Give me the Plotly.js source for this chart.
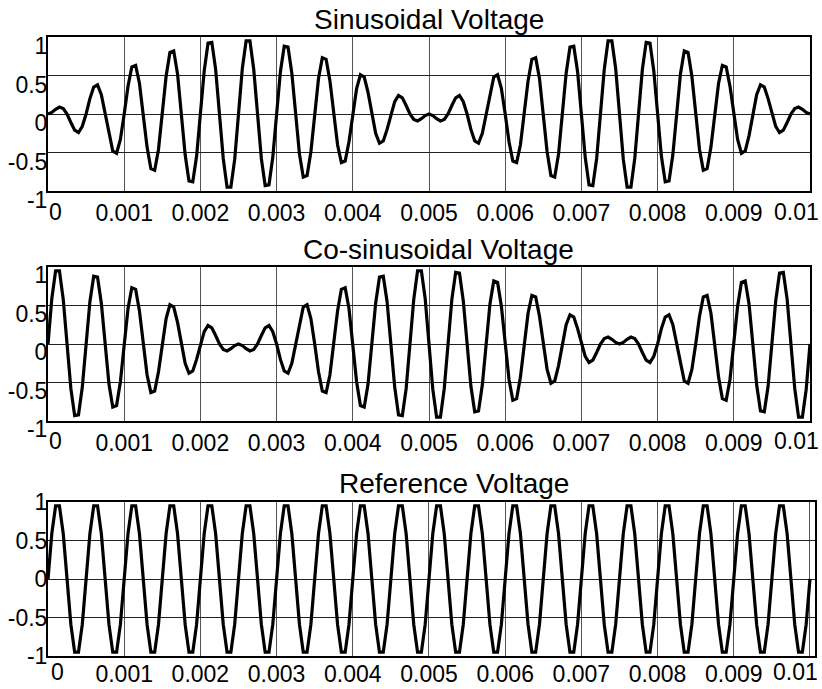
<!DOCTYPE html>
<html><head><meta charset="utf-8">
<script src="https://cdn.plot.ly/plotly-3.0.1.min.js"></script>
<style>html,body{margin:0;padding:0;background:#fff;}#chart{width:822px;height:689px;}</style>
</head><body><div id="chart"></div>
<script>
// time axis: samples start at 0 s, one sample every 0.00005 s (201 samples up to 0.01 s)
const sampleStart = 0;
const sampleStep = 0.00005;

const sinusoidalVoltage = [
  0,
  0.02, 0.06, 0.09, 0.07, 0, -0.11, -0.21, -0.24, -0.16, 0,
  0.20, 0.35, 0.38, 0.25, 0, -0.28, -0.48, -0.51, -0.33, 0,
  0.36, 0.61, 0.63, 0.40, 0, -0.43, -0.71, -0.73, -0.46, 0,
  0.49, 0.80, 0.82, 0.52, 0, -0.53, -0.87, -0.88, -0.55, 0,
  0.56, 0.92, 0.93, 0.58, 0, -0.58, -0.95, -0.95, -0.59, 0,
  0.59, 0.95, 0.95, 0.58, 0, -0.58, -0.93, -0.92, -0.56, 0,
  0.55, 0.88, 0.87, 0.53, 0, -0.52, -0.82, -0.80, -0.49, 0,
  0.46, 0.73, 0.71, 0.43, 0, -0.40, -0.63, -0.61, -0.36, 0,
  0.33, 0.51, 0.48, 0.28, 0, -0.25, -0.38, -0.35, -0.20, 0,
  0.16, 0.24, 0.21, 0.11, 0, -0.07, -0.09, -0.06, -0.02, 0,
  -0.02, -0.06, -0.09, -0.07, 0, 0.11, 0.21, 0.24, 0.16, 0,
  -0.20, -0.35, -0.38, -0.25, 0, 0.28, 0.48, 0.51, 0.33, 0,
  -0.36, -0.61, -0.63, -0.40, 0, 0.43, 0.71, 0.73, 0.46, 0,
  -0.49, -0.80, -0.82, -0.52, 0, 0.53, 0.87, 0.88, 0.55, 0,
  -0.56, -0.92, -0.93, -0.58, 0, 0.58, 0.95, 0.95, 0.59, 0,
  -0.59, -0.95, -0.95, -0.58, 0, 0.58, 0.93, 0.92, 0.56, 0,
  -0.55, -0.88, -0.87, -0.53, 0, 0.52, 0.82, 0.80, 0.49, 0,
  -0.46, -0.73, -0.71, -0.43, 0, 0.40, 0.63, 0.61, 0.36, 0,
  -0.33, -0.51, -0.48, -0.28, 0, 0.25, 0.38, 0.35, 0.20, 0,
  -0.16, -0.24, -0.21, -0.11, 0, 0.07, 0.09, 0.06, 0.02, 0
];

const cosinusoidalVoltage = [
  0,
  0.59, 0.95, 0.95, 0.58, 0, -0.58, -0.93, -0.92, -0.56, 0,
  0.55, 0.88, 0.87, 0.53, 0, -0.52, -0.82, -0.80, -0.49, 0,
  0.46, 0.73, 0.71, 0.43, 0, -0.40, -0.63, -0.61, -0.36, 0,
  0.33, 0.51, 0.48, 0.28, 0, -0.25, -0.38, -0.35, -0.20, 0,
  0.16, 0.24, 0.21, 0.11, 0, -0.07, -0.09, -0.06, -0.02, 0,
  -0.02, -0.06, -0.09, -0.07, 0, 0.11, 0.21, 0.24, 0.16, 0,
  -0.20, -0.35, -0.38, -0.25, 0, 0.28, 0.48, 0.51, 0.33, 0,
  -0.36, -0.61, -0.63, -0.40, 0, 0.43, 0.71, 0.73, 0.46, 0,
  -0.49, -0.80, -0.82, -0.52, 0, 0.53, 0.87, 0.88, 0.55, 0,
  -0.56, -0.92, -0.93, -0.58, 0, 0.58, 0.95, 0.95, 0.59, 0,
  -0.59, -0.95, -0.95, -0.58, 0, 0.58, 0.93, 0.92, 0.56, 0,
  -0.55, -0.88, -0.87, -0.53, 0, 0.52, 0.82, 0.80, 0.49, 0,
  -0.46, -0.73, -0.71, -0.43, 0, 0.40, 0.63, 0.61, 0.36, 0,
  -0.33, -0.51, -0.48, -0.28, 0, 0.25, 0.38, 0.35, 0.20, 0,
  -0.16, -0.24, -0.21, -0.11, 0, 0.07, 0.09, 0.06, 0.02, 0,
  0.02, 0.06, 0.09, 0.07, 0, -0.11, -0.21, -0.24, -0.16, 0,
  0.20, 0.35, 0.38, 0.25, 0, -0.28, -0.48, -0.51, -0.33, 0,
  0.36, 0.61, 0.63, 0.40, 0, -0.43, -0.71, -0.73, -0.46, 0,
  0.49, 0.80, 0.82, 0.52, 0, -0.53, -0.87, -0.88, -0.55, 0,
  0.56, 0.92, 0.93, 0.58, 0, -0.58, -0.95, -0.95, -0.59, 0
];

const referenceVoltage = [
  0,
  0.59, 0.95, 0.95, 0.59, 0, -0.59, -0.95, -0.95, -0.59, 0,
  0.59, 0.95, 0.95, 0.59, 0, -0.59, -0.95, -0.95, -0.59, 0,
  0.59, 0.95, 0.95, 0.59, 0, -0.59, -0.95, -0.95, -0.59, 0,
  0.59, 0.95, 0.95, 0.59, 0, -0.59, -0.95, -0.95, -0.59, 0,
  0.59, 0.95, 0.95, 0.59, 0, -0.59, -0.95, -0.95, -0.59, 0,
  0.59, 0.95, 0.95, 0.59, 0, -0.59, -0.95, -0.95, -0.59, 0,
  0.59, 0.95, 0.95, 0.59, 0, -0.59, -0.95, -0.95, -0.59, 0,
  0.59, 0.95, 0.95, 0.59, 0, -0.59, -0.95, -0.95, -0.59, 0,
  0.59, 0.95, 0.95, 0.59, 0, -0.59, -0.95, -0.95, -0.59, 0,
  0.59, 0.95, 0.95, 0.59, 0, -0.59, -0.95, -0.95, -0.59, 0,
  0.59, 0.95, 0.95, 0.59, 0, -0.59, -0.95, -0.95, -0.59, 0,
  0.59, 0.95, 0.95, 0.59, 0, -0.59, -0.95, -0.95, -0.59, 0,
  0.59, 0.95, 0.95, 0.59, 0, -0.59, -0.95, -0.95, -0.59, 0,
  0.59, 0.95, 0.95, 0.59, 0, -0.59, -0.95, -0.95, -0.59, 0,
  0.59, 0.95, 0.95, 0.59, 0, -0.59, -0.95, -0.95, -0.59, 0,
  0.59, 0.95, 0.95, 0.59, 0, -0.59, -0.95, -0.95, -0.59, 0,
  0.59, 0.95, 0.95, 0.59, 0, -0.59, -0.95, -0.95, -0.59, 0,
  0.59, 0.95, 0.95, 0.59, 0, -0.59, -0.95, -0.95, -0.59, 0,
  0.59, 0.95, 0.95, 0.59, 0, -0.59, -0.95, -0.95, -0.59, 0,
  0.59, 0.95, 0.95, 0.59, 0, -0.59, -0.95, -0.95, -0.59, 0
];

const panelTitles = ['Sinusoidal Voltage', 'Co-sinusoidal Voltage', 'Reference Voltage'];
const xTickVals = [0, 0.001, 0.002, 0.003, 0.004, 0.005, 0.006, 0.007, 0.008, 0.009, 0.01];
const xTickText = ['0', '0.001', '0.002', '0.003', '0.004', '0.005', '0.006', '0.007', '0.008', '0.009', '0.01'];
const yTickVals = [-1, -0.5, 0, 0.5, 1];
const yTickText = ['-1', '-0.5', '0', '0.5', '1'];

const FONT = 'Liberation Sans, Arial, Helvetica, sans-serif';
const TICKFONT = {family: FONT, size: 23, color: '#000'};
const series = [sinusoidalVoltage, cosinusoidalVoltage, referenceVoltage];
const last = xTickText.length - 1;

const traces = series.map((ys, i) => ({
  type: 'scatter', mode: 'lines',
  x0: sampleStart, dx: sampleStep, y: ys,
  xaxis: i === 0 ? 'x' : 'x' + (i + 1),
  yaxis: i === 0 ? 'y' : 'y' + (i + 1),
  line: {color: '#000', width: 3.2},
  hoverinfo: 'skip', showlegend: false
}));

// interior labels drawn by the axis; the two end labels are placed as annotations (offset like the original)
const axisTickText = xTickText.map((t, i) => (i === 0 || i === last) ? '' : t);

function xAxis(domain, range, standoff) {
  return {
    domain: domain, range: range, fixedrange: true,
    tickmode: 'array', tickvals: xTickVals, ticktext: axisTickText,
    ticks: '', showgrid: true, gridcolor: '#555', gridwidth: 1,
    zeroline: false, showline: true, mirror: true, linecolor: '#000', linewidth: 2,
    tickfont: TICKFONT, automargin: false,
    ticklabeloverflow: 'allow', ticklabelstandoff: standoff
  };
}
function yAxis(domain, shift) {
  return {
    domain: domain, range: [-1, 1], fixedrange: true,
    tickmode: 'array', tickvals: yTickVals, ticktext: yTickText,
    ticks: '', showgrid: true, gridcolor: '#222', gridwidth: 1,
    zeroline: false, showline: true, mirror: true, linecolor: '#000', linewidth: 2,
    tickfont: TICKFONT, automargin: false,
    ticklabelshift: shift, ticklabelstandoff: -6, ticklabeloverflow: 'allow'
  };
}

const xd = [48 / 822, 810 / 822];
const titleAnn = [
  {text: panelTitles[0], x: 429 / 822, y: 1 - 20 / 689},
  {text: panelTitles[1], x: 438 / 822, y: 1 - 249 / 689},
  {text: panelTitles[2], x: 454 / 822, y: 1 - 483 / 689}
].map(a => Object.assign(a, {
  xref: 'paper', yref: 'paper', xanchor: 'center', yanchor: 'middle',
  showarrow: false, font: {family: FONT, size: 28, color: '#000'}
}));

const endLabelRows = [
  {xref: 'x', labelY: 212, firstShift: 7},
  {xref: 'x2', labelY: 441, firstShift: 7},
  {xref: 'x3', labelY: 672, firstShift: 9}
];
const endAnn = [];
endLabelRows.forEach(r => {
  endAnn.push({text: xTickText[0], xref: r.xref, x: xTickVals[0], yref: 'paper', y: 1 - r.labelY / 689,
    xanchor: 'center', yanchor: 'middle', xshift: r.firstShift, showarrow: false, font: TICKFONT});
  endAnn.push({text: xTickText[last], xref: r.xref, x: xTickVals[last], yref: 'paper', y: 1 - r.labelY / 689,
    xanchor: 'center', yanchor: 'middle', xshift: -14, showarrow: false, font: TICKFONT});
});

const layout = {
  width: 822, height: 689,
  margin: {l: 0, r: 0, t: 0, b: 0},
  paper_bgcolor: '#fff', plot_bgcolor: '#fff',
  showlegend: false,
  xaxis: xAxis(xd, [0, 0.01], 0),
  yaxis: yAxis([1 - 191 / 689, 1 - 37 / 689], 9),
  xaxis2: Object.assign(xAxis(xd, [0, 0.01], 0), {anchor: 'y2'}),
  yaxis2: Object.assign(yAxis([1 - 421 / 689, 1 - 267 / 689], 8), {anchor: 'x2'}),
  xaxis3: Object.assign(xAxis([48 / 822, 815 / 822], [0, 0.010066], -4), {anchor: 'y3'}),
  yaxis3: Object.assign(yAxis([1 - 656 / 689, 1 - 502 / 689], 0), {anchor: 'x3'}),
  annotations: titleAnn.concat(endAnn)
};

Plotly.newPlot('chart', traces, layout, {displayModeBar: false, staticPlot: true});
</script>
</body></html>
